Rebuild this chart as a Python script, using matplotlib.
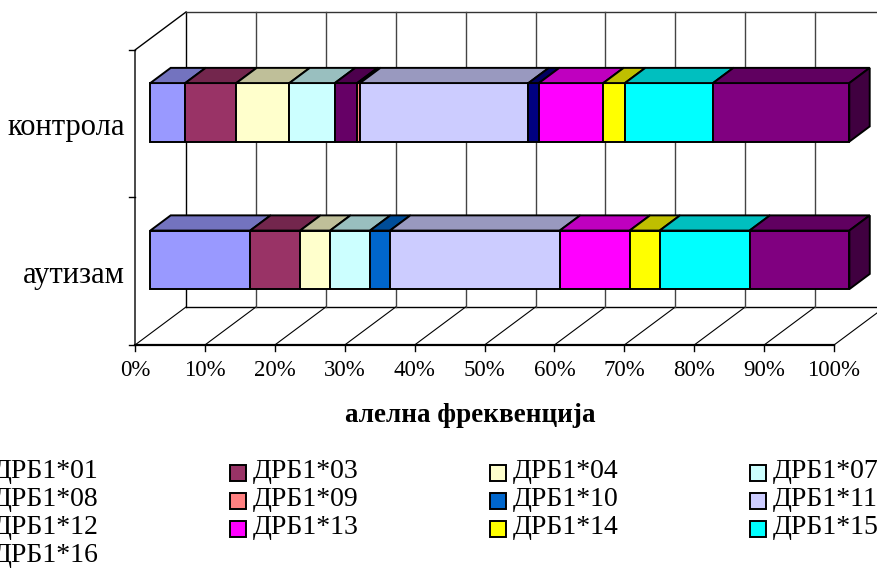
import matplotlib.pyplot as plt
from matplotlib.patches import Polygon, Rectangle
from matplotlib.colors import to_rgb

plt.rcParams['font.family'] = ['Liberation Serif', 'DejaVu Serif']

# allele frequencies (%) per group
alleles = ['ДРБ1*01', 'ДРБ1*03', 'ДРБ1*04', 'ДРБ1*07', 'ДРБ1*08', 'ДРБ1*09', 'ДРБ1*10',
           'ДРБ1*11', 'ДРБ1*12', 'ДРБ1*13', 'ДРБ1*14', 'ДРБ1*15', 'ДРБ1*16']
groups = ['аутизам', 'контрола']
autism = [14.29, 7.14, 4.29, 5.71, 0.0, 0.0, 2.86, 24.29, 0.0, 10.0, 4.29, 12.86, 14.28]
control = [5.0, 7.3, 7.6, 6.5, 3.2, 0.4, 0.0, 24.1, 1.5, 9.2, 3.1, 12.6, 19.5]
colors = ['#9999FF', '#993366', '#FFFFCC', '#CCFFFF', '#660066', '#FF8080', '#0066CC',
          '#CCCCFF', '#000080', '#FF00FF', '#FFFF00', '#00FFFF', '#800080']
xticks = list(range(0, 101, 10))


def shade(c, k):
    r, g, b = to_rgb(c)
    return (r * k, g * k, b * k)


fig = plt.figure(figsize=(8.78, 5.70), dpi=100)
ax = fig.add_axes([0, 0, 1, 1])
ax.axis('off')
PX, PY = 6.99, 147.5        # pixels per percent / per category band
ax.set_xlim(-135 / PX, (878 - 135) / PX)
ax.set_ylim((345 - 570) / PY, 345 / PY)

DX, DY = 51 / PX, 38 / PY   # depth of the 3d box
f0, fd = 0.3, 0.4           # bar starts at 30% of depth, 40% deep
BH = 0.397                  # bar height in band units

# walls and floor
ax.plot([0, 0, DX], [0, 2, 2 + DY], color='k', lw=1)
ax.plot([DX, DX], [DY, 2 + DY], color='k', lw=1)
ax.plot([DX, 100 + DX], [2 + DY, 2 + DY], color='#333333', lw=1)
ax.plot([DX, 100 + DX], [DY, DY], color='k', lw=1)
for t in xticks:
    ax.plot([t, t + DX], [0, DY], color='k', lw=0.8)
    if t > 0:
        ax.plot([t + DX, t + DX], [DY, 2 + DY], color='#444444', lw=1)
    ax.plot([t, t], [0, -6 / PY], color='k', lw=1)
    ax.text(t, -25 / PY, f'{t}%', ha='center', va='center', fontsize=16.5)
ax.plot([0, 100], [0, 0], color='k', lw=1.6)
for k in range(3):
    ax.plot([-6 / PX, 0], [k, k], color='k', lw=1)

# stacked 3d bars
for row, vals in enumerate([autism, control]):
    yc = row + 0.5 + f0 * DY
    left = 0.0
    last = None
    for v, c in zip(vals, colors):
        if v <= 0:
            continue
        x0 = left + f0 * DX
        ax.barh(yc, v, left=x0, height=BH, color=c, edgecolor='k', lw=1.4, zorder=5)
        ytop = yc + BH / 2
        top = [(x0, ytop), (x0 + v, ytop), (x0 + v + fd * DX, ytop + fd * DY),
               (x0 + fd * DX, ytop + fd * DY)]
        ax.add_patch(Polygon(top, closed=True, fc=shade(c, 0.75), ec='k', lw=1.4,
                             joinstyle='miter', zorder=5))
        left += v
        last = (x0 + v, c)
    xe, c = last
    ybot = yc - BH / 2
    side = [(xe, ybot), (xe + fd * DX, ybot + fd * DY), (xe + fd * DX, ybot + BH + fd * DY),
            (xe, ybot + BH)]
    ax.add_patch(Polygon(side, closed=True, fc=shade(c, 0.5), ec='k', lw=1.4,
                         joinstyle='miter', zorder=5))
    ax.text(-10 / PX, row + 0.5 - 4 / PY, groups[row], ha='right', va='center', fontsize=22)

ax.text(47.9, -70 / PY, 'алелна фреквенција', ha='center', va='center',
        fontsize=19.5, fontweight='bold')

# legend, filled row by row in 4 columns
W, H = 878, 570
for i, (name, c) in enumerate(zip(alleles, colors)):
    col, r = i % 4, i // 4
    sx = -30 + 260 * col
    sy = 473 + 28 * r
    fig.patches.append(Rectangle((sx / W, 1 - (sy + 8) / H), 16 / W, 16 / H, fc=c, ec='k',
                                 lw=1.4, transform=fig.transFigure))
    fig.text((sx + 23) / W, 1 - (sy - 2) / H, name, ha='left', va='center', fontsize=20)

fig.savefig('out.png', dpi=100)
